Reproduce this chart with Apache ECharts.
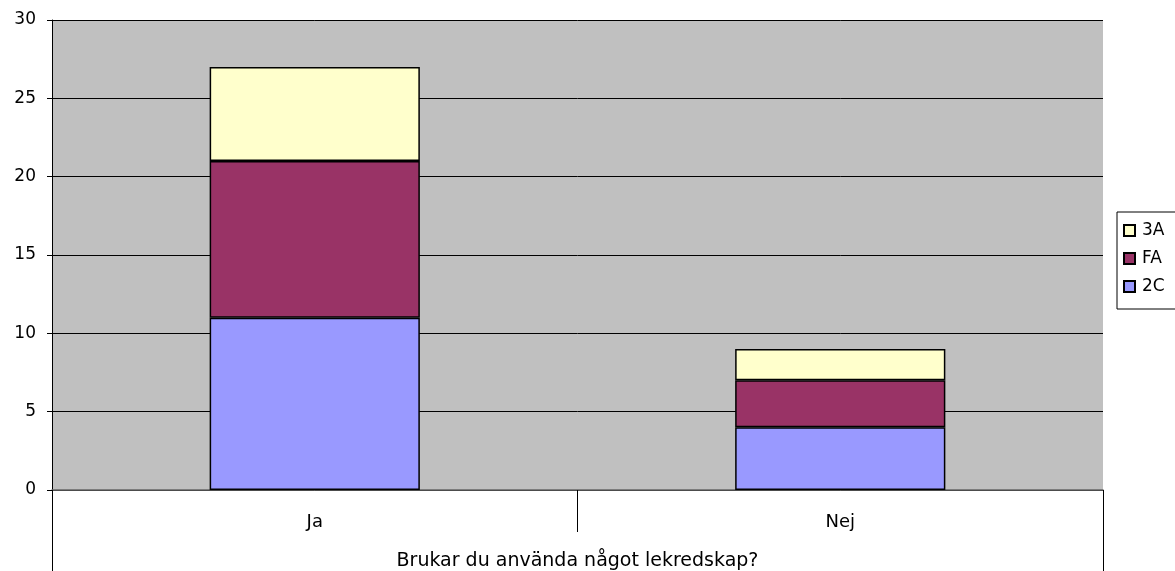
<!DOCTYPE html>
<html>
<head>
<meta charset="utf-8">
<script src="https://cdn.jsdelivr.net/npm/echarts@6/dist/echarts.min.js"></script>
<style>
  html, body { margin: 0; padding: 0; background: #fff; }
  #chart { width: 1175px; height: 571px; }
</style>
</head>
<body>
<div id="chart"></div>
<script>
const categories = ['Ja', 'Nej'];
const groupLabel = ['Brukar du använda något lekredskap?'];
const seriesNames = ['2C', 'FA', '3A'];
const values2C = [11, 4];
const valuesFA = [10, 3];
const values3A = [6, 2];

const font = 'DejaVu Sans, Verdana, sans-serif';
const colors = { '2C': '#9999FF', 'FA': '#993366', '3A': '#FFFFCC' };
const seriesData = { '2C': values2C, 'FA': valuesFA, '3A': values3A };

let chart = echarts.init(document.getElementById('chart'));
chart.setOption({
  animation: false,
  textStyle: { fontFamily: font },
  grid: {
    left: 52, right: 72, top: 20, bottom: 81,
    show: true, backgroundColor: '#C0C0C0', borderWidth: 0
  },
  legend: {
    orient: 'vertical',
    left: 1117, top: 212,
    data: ['3A', 'FA', '2C'],
    icon: 'rect',
    itemWidth: 11, itemHeight: 11, itemGap: 11,
    borderColor: '#000', borderWidth: 1,
    padding: [10, 30, 14, 6],
    textStyle: { fontFamily: font, fontSize: 17, color: '#000', padding: [0, 0, 0, 2] }
  },
  xAxis: [
    {
      type: 'category',
      data: categories,
      axisLine: { lineStyle: { color: '#666', width: 1.5 } },
      axisTick: { show: true, interval: 0, length: 42, lineStyle: { color: '#000' } },
      axisLabel: { color: '#000', fontSize: 18, margin: 23 }
    },
    {
      type: 'category',
      position: 'bottom',
      offset: 42,
      data: groupLabel,
      axisLine: { show: false },
      axisTick: { show: true, length: 39, lineStyle: { color: '#000' } },
      axisLabel: { color: '#000', fontSize: 19, margin: 20 }
    }
  ],
  yAxis: {
    type: 'value',
    min: 0, max: 30, interval: 5,
    axisLine: { show: true, lineStyle: { color: '#000' } },
    axisTick: { show: true, length: 5, lineStyle: { color: '#000' } },
    axisLabel: { color: '#000', fontSize: 17, margin: 16 },
    splitLine: { lineStyle: { color: '#000', width: 1 } }
  },
  series: seriesNames.map((name) => {
    return {
      name: name,
      type: 'bar',
      stack: 'total',
      barWidth: '40%',
      data: seriesData[name],
      itemStyle: { color: colors[name], borderColor: '#000', borderWidth: 1.5 }
    };
  })
});
</script>
</body>
</html>
